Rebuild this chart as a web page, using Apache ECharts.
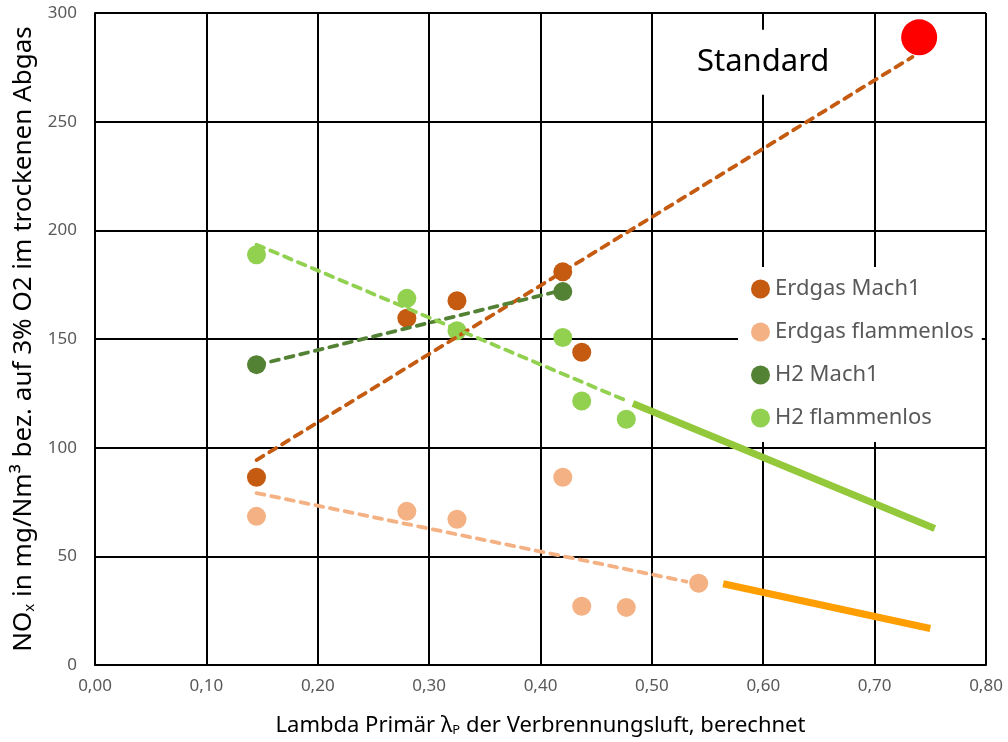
<!DOCTYPE html>
<html>
<head>
<meta charset="utf-8">
<script src="https://cdn.jsdelivr.net/npm/echarts@6/dist/echarts.min.js"></script>
<style>
html,body{margin:0;padding:0;background:#fff;}
#chart{width:1008px;height:742px;}
</style>
</head>
<body>
<div id="chart"></div>
<script>
// ---- data ----
const xTicks = [0, 0.1, 0.2, 0.3, 0.4, 0.5, 0.6, 0.7, 0.8];
const yTicks = [0, 50, 100, 150, 200, 250, 300];

const erdgasMach1X = [0.145, 0.28, 0.325, 0.42, 0.437];
const erdgasMach1Y = [86.4, 159.6, 167.6, 180.9, 143.9];

const erdgasFlammenlosX = [0.145, 0.28, 0.325, 0.42, 0.437, 0.477, 0.542];
const erdgasFlammenlosY = [68.4, 70.7, 67.1, 86.4, 27.0, 26.5, 37.6];

const h2Mach1X = [0.145, 0.42];
const h2Mach1Y = [138.2, 171.8];

const h2FlammenlosX = [0.145, 0.28, 0.325, 0.42, 0.437, 0.477];
const h2FlammenlosY = [188.8, 168.7, 153.8, 150.7, 121.5, 113.1];

const standardX = [0.740];
const standardY = [288.8];

// trend lines (dashed)
const erdgasMach1TrendX = [0.145, 0.734];
const erdgasMach1TrendY = [94.3, 279.8];
const erdgasFlammenlosTrendX = [0.145, 0.531];
const erdgasFlammenlosTrendY = [79.1, 38.4];
const h2Mach1TrendX = [0.145, 0.42];
const h2Mach1TrendY = [138.0, 172.5];
const h2FlammenlosTrendX = [0.145, 0.479];
const h2FlammenlosTrendY = [193.4, 121.2];

// projection lines (solid)
const h2ProjectionX = [0.483, 0.754];
const h2ProjectionY = [120.3, 62.8];
const erdgasProjectionX = [0.564, 0.750];
const erdgasProjectionY = [37.4, 16.8];

const legendNames = ['Erdgas Mach1', 'Erdgas flammenlos', 'H2 Mach1', 'H2 flammenlos'];

// ---- helpers ----
const pairs = (xs, ys) => xs.map((x, i) => [x, ys[i]]);
const FONT = 'Noto Sans';

function scatter(name, xs, ys, color) {
  return {
    name: name, type: 'scatter', data: pairs(xs, ys),
    symbol: 'circle', symbolSize: 19, z: 3,
    itemStyle: { color: color, opacity: 1 }
  };
}
function dashed(name, xs, ys, color) {
  return {
    name: name, type: 'line', data: pairs(xs, ys),
    symbol: 'none', showSymbol: false, z: 4,
    lineStyle: { color: color, width: 3.8, type: [8, 7], cap: 'round' }
  };
}
function solid(name, xs, ys, color) {
  return {
    name: name, type: 'line', data: pairs(xs, ys),
    symbol: 'none', showSymbol: false, z: 4,
    lineStyle: { color: color, width: 7, type: 'solid', cap: 'butt' }
  };
}

const chart = echarts.init(document.getElementById('chart'), null, { renderer: 'canvas' });

const option = {
  animation: false,
  backgroundColor: '#fff',
  textStyle: { fontFamily: FONT },
  grid: { left: 95, right: 22, top: 13, bottom: 73, containLabel: false },
  legend: {
    data: legendNames.map(n => ({ name: n, icon: 'circle' })),
    orient: 'vertical',
    left: 738, top: 267,
    padding: [10, 8, 12, 13],
    backgroundColor: '#fff',
    itemWidth: 19, itemHeight: 19, itemGap: 19,
    textStyle: { fontFamily: FONT, fontSize: 22, color: '#595959', lineHeight: 24 },
    z: 10
  },
  xAxis: {
    type: 'value', min: xTicks[0], max: xTicks[xTicks.length - 1], interval: 0.1,
    axisLine: { show: true, lineStyle: { color: '#000', width: 2 } },
    axisTick: { show: false },
    splitLine: { show: true, lineStyle: { color: '#000', width: 2 } },
    axisLabel: {
      fontFamily: FONT, fontSize: 17, color: '#595959', margin: 13,
      formatter: v => v.toFixed(2).replace('.', ',')
    },
    name: 'Lambda Primär λ{sub|P} der Verbrennungsluft, berechnet',
    nameLocation: 'middle', nameGap: 49,
    nameTextStyle: {
      fontFamily: FONT, fontSize: 22, color: '#000',
      rich: { sub: { fontFamily: FONT, fontSize: 13, color: '#000', padding: [10, 0, 0, 0] } }
    }
  },
  yAxis: {
    type: 'value', min: yTicks[0], max: yTicks[yTicks.length - 1], interval: 50,
    axisLine: { show: true, lineStyle: { color: '#000', width: 2 } },
    axisTick: { show: false },
    splitLine: { show: true, lineStyle: { color: '#000', width: 2 } },
    axisLabel: { fontFamily: FONT, fontSize: 17, color: '#595959', margin: 18 },
    name: 'NO{sub|x} in mg/Nm³ bez. auf 3% O2 im trockenen Abgas',
    nameLocation: 'middle', nameGap: 56, nameRotate: 90,
    nameTextStyle: {
      fontFamily: FONT, fontSize: 26, color: '#000',
      rich: { sub: { fontFamily: FONT, fontSize: 15, color: '#000', padding: [12, 0, 0, 0] } }
    }
  },
  series: [
    scatter('Erdgas Mach1', erdgasMach1X, erdgasMach1Y, '#C55A11'),
    scatter('Erdgas flammenlos', erdgasFlammenlosX, erdgasFlammenlosY, '#F4B183'),
    scatter('H2 Mach1', h2Mach1X, h2Mach1Y, '#548235'),
    scatter('H2 flammenlos', h2FlammenlosX, h2FlammenlosY, '#92D050'),
    dashed('Trend Erdgas Mach1', erdgasMach1TrendX, erdgasMach1TrendY, '#C55A11'),
    dashed('Trend Erdgas flammenlos', erdgasFlammenlosTrendX, erdgasFlammenlosTrendY, '#F4B183'),
    dashed('Trend H2 Mach1', h2Mach1TrendX, h2Mach1TrendY, '#548235'),
    dashed('Trend H2 flammenlos', h2FlammenlosTrendX, h2FlammenlosTrendY, '#92D050'),
    solid('Projektion H2', h2ProjectionX, h2ProjectionY, '#92C83A'),
    solid('Projektion Erdgas', erdgasProjectionX, erdgasProjectionY, '#FF9E00'),
    {
      name: 'Standard', type: 'scatter', data: pairs(standardX, standardY),
      symbol: 'circle', symbolSize: 36, z: 6,
      itemStyle: { color: '#FF0000', opacity: 1 },
      label: {
        show: true, position: 'inside', offset: [-156, 25],
        formatter: 'Standard',
        fontFamily: FONT, fontSize: 31, color: '#000', opacity: 1,
        backgroundColor: '#fff', padding: [17, 14]
      }
    }
  ]
};
chart.setOption(option);
</script>
</body>
</html>
